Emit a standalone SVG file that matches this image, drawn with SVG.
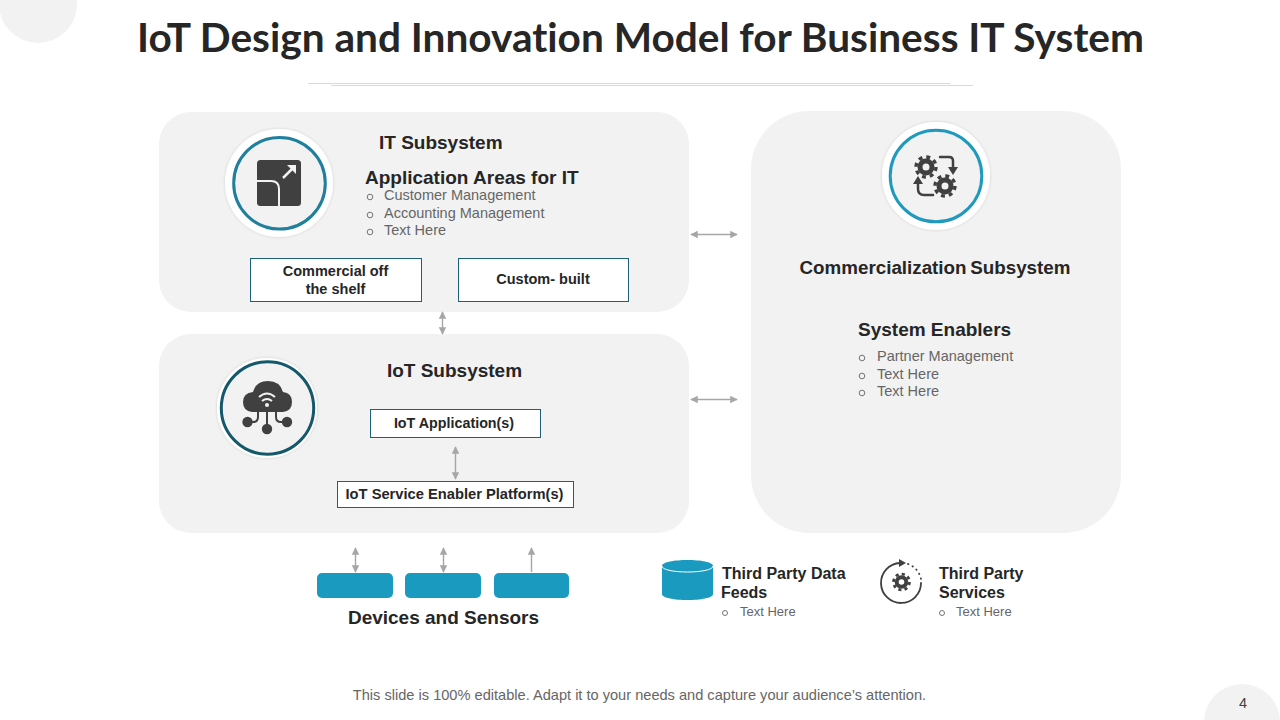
<svg xmlns="http://www.w3.org/2000/svg" width="1280" height="720" viewBox="0 0 1280 720">
<style>
text{font-family:"Liberation Sans",Arial,sans-serif}
.h{font-weight:700;fill:#262626;font-size:19px}
.b{font-weight:700;fill:#262626;font-size:14.5px;text-anchor:middle}
.t{fill:#666;font-size:14.5px}
.s{fill:#666;font-size:13px}
.bul{fill:none;stroke:#666;stroke-width:.9}
.panel{fill:#f2f2f2}
.ring{fill:#f2f2f2;stroke-width:3}
.halo{fill:#fff;filter:url(#sh)}
.box{fill:#fff;stroke:#1f6079;stroke-width:1}
.dev{fill:#1b9ac0}
.ic{fill:#404040}
.icl{fill:none;stroke:#404040;stroke-linecap:round}
.con{stroke:#a6a6a6;stroke-width:1.4;fill:none}
</style>
<defs>
<filter id="sh" x="-20%" y="-20%" width="140%" height="140%"><feDropShadow dx="0" dy="0" stdDeviation="1.5" flood-color="#000" flood-opacity=".15"/></filter>
<marker id="a" viewBox="0 0 10 10" refX="9" refY="5" markerWidth="7.5" markerHeight="7.5" markerUnits="userSpaceOnUse" orient="auto-start-reverse"><path d="M0 0L10 5L0 10Z" fill="#a6a6a6"/></marker>
<g id="gear"><circle r="6" fill="none" stroke="#404040" stroke-width="5"/><circle r="10" fill="none" stroke="#404040" stroke-width="3.4" stroke-dasharray="3.9 3.95"/></g>
</defs>
<rect width="1280" height="720" fill="#fff"/>
<circle cx="38" cy="4" r="39" fill="#f2f2f2"/>
<circle cx="1242" cy="722" r="38" fill="#f2f2f2"/>
<text x="640.5" y="52" text-anchor="middle" font-size="40" font-weight="700" fill="#262626" style="font-family:Lato,sans-serif;font-variant-ligatures:none" textLength="1007" lengthAdjust="spacingAndGlyphs">IoT Design and Innovation Model for Business IT System</text>
<path d="M308 83.500H950M331 85.500H973" stroke="#d9d9d9" stroke-width="1" fill="none"/>

<g id="it-subsystem">
<rect class="panel" x="159" y="112" width="530" height="200" rx="32"/>
<circle class="halo" cx="279" cy="183" r="54"/>
<circle class="ring" cx="279.500" cy="183.300" r="45.800" stroke="#1f7f9c"/>
<rect class="ic" x="257" y="160" width="44" height="46" rx="3.500"/>
<path d="M257 181H271Q279 181 279 189V206" stroke="#f2f2f2" stroke-width="2" fill="none"/>
<path d="M283 178L294 167" stroke="#f2f2f2" stroke-width="2.500" fill="none"/>
<path d="M287 165H296V174Z" fill="#f2f2f2"/>
<text class="h" x="379" y="149">IT Subsystem</text>
<text class="h" x="365" y="183.500">Application Areas for IT</text>
<circle class="bul" cx="370" cy="197" r="2.800"/><text class="t" x="384" y="200">Customer Management</text>
<circle class="bul" cx="370" cy="215" r="2.800"/><text class="t" x="384" y="218">Accounting Management</text>
<circle class="bul" cx="370" cy="232" r="2.800"/><text class="t" x="384" y="235">Text Here</text>
<rect class="box" x="250.500" y="258.500" width="171" height="43"/>
<text class="b" x="335.500" y="276">Commercial off</text><text class="b" x="335.500" y="294">the shelf</text>
<rect class="box" x="458.500" y="258.500" width="170" height="43"/>
<text class="b" x="543" y="284">Custom- built</text>
</g>

<g id="iot-subsystem">
<rect class="panel" x="159" y="334" width="530" height="199" rx="32"/>
<circle class="halo" cx="267" cy="408" r="50"/>
<circle class="ring" cx="267.500" cy="408" r="46.200" stroke="#14596b"/>
<path class="ic" d="M252 412Q243 411 243 402Q243 393 253 392Q256 381 268 381Q280 381 283 392Q292 393 292 402Q292 411 283 412Z"/>
<path d="M259 397Q267 390 275 397M262 401Q267 397 272 401" stroke="#f2f2f2" stroke-width="2" fill="none"/><circle cx="267" cy="405" r="2" fill="#f2f2f2"/>
<path class="icl" stroke-width="2" d="M267 408V428M258 411V417Q258 422 253 422H250M276 411V417Q276 422 281 422H284"/>
<circle class="ic" cx="247.500" cy="422" r="5.200"/><circle class="ic" cx="267" cy="429" r="5.200"/><circle class="ic" cx="287" cy="422" r="5.200"/>
<text class="h" x="454.500" y="376.500" text-anchor="middle">IoT Subsystem</text>
<rect class="box" x="370.500" y="409.500" width="170" height="28"/>
<text class="b" x="454" y="428" style="font-size:14.300px">IoT Application(s)</text>
<rect class="box" x="337.500" y="481.500" width="236" height="26"/>
<text class="b" x="454.500" y="499" style="font-size:14.700px">IoT Service Enabler Platform(s)</text>
</g>

<g id="commercialization-subsystem">
<rect class="panel" x="751" y="111" width="370" height="422" rx="58"/>
<circle class="halo" cx="936" cy="176" r="54"/>
<circle class="ring" cx="936" cy="176" r="45.800" stroke="#1f9abd"/>
<use href="#gear" x="926" y="167"/><use href="#gear" x="945" y="186"/>
<path class="icl" stroke-width="2.500" d="M940 157H949Q953 157 953 161V168M933 195H924Q918 195 918 189V184"/>
<path class="ic" d="M948 167H958L953 175ZM913 184H923L918 176Z"/>
<text class="h" x="935" y="273.500" text-anchor="middle" style="font-size:18.800px;word-spacing:-1.500px">Commercialization Subsystem</text>
<text class="h" x="858" y="335.500">System Enablers</text>
<circle class="bul" cx="862" cy="358" r="2.800"/><text class="t" x="877" y="361">Partner Management</text>
<circle class="bul" cx="862" cy="376" r="2.800"/><text class="t" x="877" y="379">Text Here</text>
<circle class="bul" cx="862" cy="393" r="2.800"/><text class="t" x="877" y="396">Text Here</text>
</g>

<g id="devices-and-sensors">
<rect class="dev" x="317" y="573" width="76" height="25" rx="5"/>
<rect class="dev" x="405" y="573" width="76" height="25" rx="5"/>
<rect class="dev" x="494" y="573" width="75" height="25" rx="5"/>
<text class="h" x="443.500" y="623.500" text-anchor="middle">Devices and Sensors</text>
</g>

<g id="third-party-data-feeds">
<path class="dev" d="M662 566C662 558 713 558 713 566V594C713 602 662 602 662 594Z"/>
<path d="M662 566C662 574 713 574 713 566" fill="none" stroke="#fff" stroke-width="1"/>
<text class="b" x="722" y="579" style="text-anchor:start;font-size:16px">Third Party Data</text>
<text class="b" x="721" y="598" style="text-anchor:start;font-size:16px">Feeds</text>
<circle class="bul" cx="725" cy="613" r="2.500"/><text class="s" x="740" y="616">Text Here</text>
</g>

<g id="third-party-services">
<path class="icl" stroke-width="1.800" d="M900 563A20 20 0 1 0 921 583"/>
<path class="ic" d="M899 559L906 563L899 567Z"/>
<path class="icl" stroke-width="1.800" stroke-dasharray="0.500 4.500" d="M908 564A20 20 0 0 1 921 579"/>
<use href="#gear" transform="translate(901.500 582) scale(.8)"/>
<text class="b" x="939" y="579" style="text-anchor:start;font-size:16px">Third Party</text>
<text class="b" x="939" y="598" style="text-anchor:start;font-size:16px">Services</text>
<circle class="bul" cx="942" cy="613" r="2.500"/><text class="s" x="956" y="616">Text Here</text>
</g>

<g id="connectors">
<path class="con" marker-start="url(#a)" marker-end="url(#a)" d="M691 234.500H737"/>
<path class="con" marker-start="url(#a)" marker-end="url(#a)" d="M691 399.500H737"/>
<path class="con" marker-start="url(#a)" marker-end="url(#a)" d="M442.500 312V334"/>
<path class="con" marker-start="url(#a)" marker-end="url(#a)" d="M455.500 447V479"/>
<path class="con" marker-start="url(#a)" marker-end="url(#a)" d="M355.500 548V572"/>
<path class="con" marker-start="url(#a)" marker-end="url(#a)" d="M443.500 548V572"/>
<path class="con" marker-end="url(#a)" d="M531.500 572V548"/>
</g>

<text x="639.500" y="700" text-anchor="middle" font-size="14.600" fill="#666">This slide is 100% editable. Adapt it to your needs and capture your audience’s attention.</text>
<text x="1243" y="708" text-anchor="middle" font-size="14.500" fill="#404040">4</text>
</svg>
